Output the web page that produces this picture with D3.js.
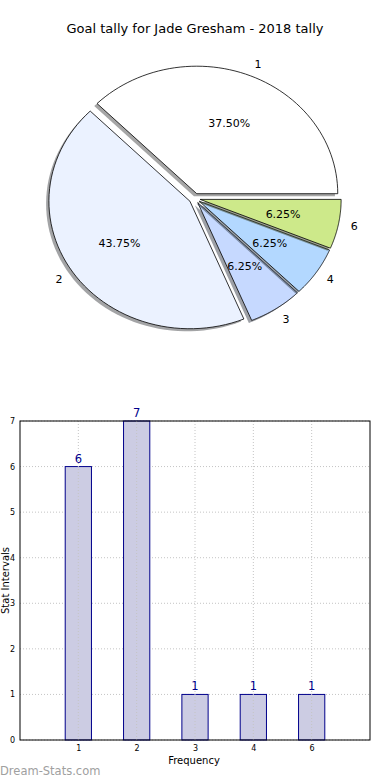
<!DOCTYPE html>
<html>
<head>
<meta charset="utf-8">
<script src="https://cdn.jsdelivr.net/npm/d3@7"></script>
<style>
  body { margin: 0; background: #fff; }
  svg { display: block; font-family: "DejaVu Sans", sans-serif; }
</style>
</head>
<body>
<svg id="chart" width="390" height="780"></svg>
<script>
// data
const categories = ["1", "2", "3", "4", "6"];
const tallyValues = [6, 7, 1, 1, 1];
const sliceColors = ["#ffffff", "#ebf2ff", "#c6d9ff", "#b3d8ff", "#cde98a"];
const yTicks = [0, 1, 2, 3, 4, 5, 6, 7];

const svg = d3.select("#chart");

// ---- title
svg.append("text")
  .attr("x", 195).attr("y", 33)
  .attr("text-anchor", "middle")
  .style("font-size", "13px")
  .text("Goal tally for Jade Gresham - 2018 tally");

// ---- pie (matplotlib style: start at 3 o'clock, counter clockwise, elliptical)
const cx = 194.6, cy = 198.4, rx = 141, ry = 127.5;
const explode = 0.04;
const total = d3.sum(tallyValues);

const angle = d3.scaleLinear().domain([0, total]).range([0, 2 * Math.PI]);

let acc = 0;
const slices = tallyValues.map((v, i) => {
  const a0 = angle(acc), a1 = angle(acc + v);
  acc += v;
  return {cat: categories[i], value: v, a0, a1, mid: (a0 + a1) / 2, color: sliceColors[i]};
});

// point on the ellipse (y flipped for screen)
function pt(ox, oy, a, k) {
  return [ox + k * rx * Math.cos(a), oy - k * ry * Math.sin(a)];
}

function wedgePath(ox, oy, a0, a1) {
  const steps = 60;
  const pts = [[ox, oy]];
  for (let s = 0; s <= steps; s++) {
    pts.push(pt(ox, oy, a0 + (a1 - a0) * s / steps, 1));
  }
  return d3.line()(pts) + "Z";
}

function darker(c) {
  const col = d3.rgb(c);
  return d3.rgb(col.r * 0.3, col.g * 0.3, col.b * 0.3).toString();
}

const pie = svg.append("g");
slices.forEach(s => {
  const ox = cx + explode * rx * Math.cos(s.mid);
  const oy = cy - explode * ry * Math.sin(s.mid);
  s.ox = ox; s.oy = oy;
  // shadow
  pie.append("path")
    .attr("d", wedgePath(ox - 0.02 * rx, oy + 0.02 * ry, s.a0, s.a1))
    .attr("fill", darker(s.color))
    .attr("fill-opacity", 0.5);
  pie.append("path")
    .attr("d", wedgePath(ox, oy, s.a0, s.a1))
    .attr("fill", s.color)
    .attr("stroke", "#000")
    .attr("stroke-width", 0.8)
    .attr("stroke-linejoin", "round");
});

slices.forEach(s => {
  const lp = pt(s.ox, s.oy, s.mid, 1.1);
  pie.append("text")
    .attr("x", lp[0] + (Math.cos(s.mid) > 0 ? 2 : -2)).attr("y", lp[1])
    .attr("text-anchor", "middle")
    .attr("dominant-baseline", "central")
    .style("font-size", "11px")
    .text(s.cat);
  const pp = pt(s.ox, s.oy, s.mid, 0.6);
  pie.append("text")
    .attr("x", pp[0]).attr("y", pp[1])
    .attr("text-anchor", "middle")
    .attr("dominant-baseline", "central")
    .style("font-size", "11px")
    .text((s.value / total * 100).toFixed(2) + "%");
});

// ---- bar chart
const plotLeft = 20, plotRight = 370, plotTop = 421, plotBottom = 740;
const x = d3.scaleLinear().domain([0, categories.length + 1]).range([plotLeft, plotRight]);
const y = d3.scaleLinear().domain([0, 7]).range([plotBottom, plotTop]);
const barW = 0.45;

const bars = svg.append("g");

// grid
bars.selectAll("line.hgrid")
  .data(yTicks)
  .join("line")
  .attr("class", "hgrid")
  .attr("x1", plotLeft).attr("x2", plotRight)
  .attr("y1", d => y(d)).attr("y2", d => y(d))
  .attr("stroke", "#c4c4c4")
  .attr("stroke-dasharray", "1,2");

// bars
bars.selectAll("rect.bar")
  .data(tallyValues)
  .join("rect")
  .attr("class", "bar")
  .attr("x", (d, i) => x(i + 1 - barW / 2))
  .attr("y", d => y(d))
  .attr("width", x(barW) - x(0))
  .attr("height", d => y(0) - y(d))
  .attr("fill", "#cccce3")
  .attr("stroke", "#00008b")
  .attr("stroke-width", 1);

bars.selectAll("line.vgrid")
  .data(categories)
  .join("line")
  .attr("class", "vgrid")
  .attr("x1", (d, i) => x(i + 1)).attr("x2", (d, i) => x(i + 1))
  .attr("y1", plotTop).attr("y2", plotBottom)
  .attr("stroke", "#c4c4c4")
  .attr("stroke-dasharray", "1,2");

// value labels
bars.selectAll("text.val")
  .data(tallyValues)
  .join("text")
  .attr("class", "val")
  .attr("x", (d, i) => x(i + 1))
  .attr("y", d => y(d) - 4)
  .attr("text-anchor", "middle")
  .attr("fill", "#00008b")
  .style("font-size", "11.5px")
  .text(d => d);

// frame
bars.append("rect")
  .attr("x", plotLeft).attr("y", plotTop)
  .attr("width", plotRight - plotLeft).attr("height", plotBottom - plotTop)
  .attr("fill", "none")
  .attr("stroke", "#000")
  .attr("stroke-width", 1);

// y axis
const yAxis = d3.axisLeft(y).tickValues(yTicks).tickFormat(d3.format("d")).tickSize(0).tickPadding(5);
bars.append("g")
  .attr("transform", `translate(${plotLeft},0)`)
  .call(yAxis)
  .call(g => g.select(".domain").remove())
  .call(g => g.selectAll("text").style("font-size", "8px").style("font-family", "DejaVu Sans"));

// x axis
const xAxis = d3.axisBottom(x)
  .tickValues(categories.map((c, i) => i + 1))
  .tickFormat((d, i) => categories[i])
  .tickSize(0).tickPadding(5);
bars.append("g")
  .attr("transform", `translate(0,${plotBottom})`)
  .call(xAxis)
  .call(g => g.select(".domain").remove())
  .call(g => g.selectAll("text").style("font-size", "8px").style("font-family", "DejaVu Sans"));

// axis titles
svg.append("text")
  .attr("x", 194).attr("y", 764)
  .attr("text-anchor", "middle")
  .style("font-size", "10px")
  .text("Frequency");

svg.append("text")
  .attr("transform", `translate(9,${(plotTop + plotBottom) / 2}) rotate(-90)`)
  .attr("text-anchor", "middle")
  .style("font-size", "10px")
  .text("Stat Intervals");

// watermark
svg.append("text")
  .attr("x", 0).attr("y", 775)
  .attr("fill", "#a0a0a0")
  .style("font-size", "11.5px")
  .text("Dream-Stats.com");
</script>
</body>
</html>
